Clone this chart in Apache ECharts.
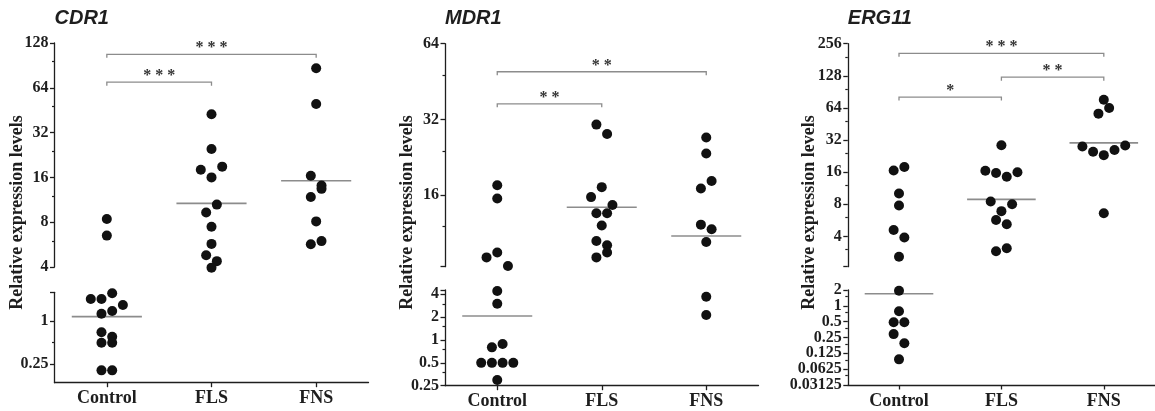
<!DOCTYPE html>
<html><head><meta charset="utf-8">
<script src="https://cdn.jsdelivr.net/npm/echarts@6/dist/echarts.min.js"></script>
<style>html,body{margin:0;padding:0;background:#fff}#c{width:1155px;height:411px}</style>
</head><body><div id="c"></div>
<script>
// ---------- data ----------
const categories = ['Control', 'FLS', 'FNS'];
const geneTitles = ['CDR1', 'MDR1', 'ERG11'];
const yAxisTitle = 'Relative expression levels';

// CDR1 (values listed top-to-bottom, left-to-right)
const cdr1Control = [8.4, 6.5, 2.03, 2.03, 2.44, 1.675, 1.265, 1.38, 0.694, 0.6, 0.497, 0.497, 0.204, 0.204];
const cdr1FLS = [42.5, 24.8, 18.0, 16.0, 18.9, 9.3, 10.5, 7.45, 5.72, 4.8, 4.38, 3.96];
const cdr1FNS = [86.5, 49.8, 16.4, 14.1, 11.8, 13.4, 8.1, 5.68, 5.97];
const cdr1Centre = [1.15, 10.7, 15.2];
const cdr1UpperRange = [4, 128];
const cdr1LowerRange = [0.137, 2.52];
const cdr1UpperLabels = [4, 8, 16, 32, 64, 128];
const cdr1UpperMinor = [6, 12, 24, 48, 96];
const cdr1LowerLabels = [0.25, 1];
const cdr1LowerMinor = [0.5];
const cdr1Brackets = [[0, 1, 69.8], [0, 2, 107.4]];
const cdr1Stars = ['* * *', '* * *'];

// MDR1
const mdr1Control = [17.5, 15.5, 9.04, 9.46, 8.35, 4.42, 3.0, 0.8, 0.886, 0.5, 0.5, 0.5, 0.5, 0.297];
const mdr1FLS = [30.5, 28.0, 15.7, 17.2, 14.6, 13.55, 13.55, 12.1, 10.5, 10.1, 9.04, 9.46];
const mdr1FNS = [27.1, 23.4, 17.0, 18.2, 12.2, 11.7, 10.4, 3.72, 2.13];
const mdr1Centre = [2.07, 14.3, 11.0];
const mdr1UpperRange = [8.3, 64];
const mdr1LowerRange = [0.25, 4.56];
const mdr1UpperLabels = [16, 32, 64];
const mdr1UpperMinor = [12, 24, 48];
const mdr1LowerLabels = [0.25, 0.5, 1, 2, 4];
const mdr1LowerMinor = [0.375, 0.75, 1.5, 3];
const mdr1Brackets = [[0, 1, 36.9], [0, 2, 49.5]];
const mdr1Stars = ['* *', '* *'];

// ERG11
const erg11Control = [16.6, 17.9, 10.1, 7.8, 4.6, 3.9, 2.58, 1.94, 0.79, 0.486, 0.486, 0.29, 0.194, 0.096];
const erg11FLS = [28.6, 16.5, 15.7, 14.5, 16.0, 8.5, 6.9, 8.0, 5.7, 5.2, 2.9, 3.1];
const erg11FNS = [56.6, 64, 76.4, 27.8, 24.9, 23.1, 25.8, 28.4, 6.6];
const erg11Centre = [1.7, 8.9, 30.1];
const erg11UpperRange = [2.08, 256];
const erg11LowerRange = [0.03125, 2];
const erg11UpperLabels = [4, 8, 16, 32, 64, 128, 256];
const erg11UpperMinor = [3, 6, 12, 24, 48, 96, 192];
const erg11LowerLabels = [0.03125, 0.0625, 0.125, 0.25, 0.5, 1, 2];
const erg11LowerMinor = [0.046875, 0.09375, 0.1875, 0.375, 0.75, 1.5];
const erg11Brackets = [[0, 1, 80.9], [1, 2, 124.4], [0, 2, 208]];
const erg11Stars = ['*', '* *', '* * *'];

// ---------- assembly ----------
const panels = [
  {title: geneTitles[0], groups: [cdr1Control, cdr1FLS, cdr1FNS], centre: cdr1Centre, upper: cdr1UpperRange, lower: cdr1LowerRange,
   upperLabels: cdr1UpperLabels, upperMinor: cdr1UpperMinor, lowerLabels: cdr1LowerLabels, lowerMinor: cdr1LowerMinor, brackets: cdr1Brackets, stars: cdr1Stars},
  {title: geneTitles[1], groups: [mdr1Control, mdr1FLS, mdr1FNS], centre: mdr1Centre, upper: mdr1UpperRange, lower: mdr1LowerRange,
   upperLabels: mdr1UpperLabels, upperMinor: mdr1UpperMinor, lowerLabels: mdr1LowerLabels, lowerMinor: mdr1LowerMinor, brackets: mdr1Brackets, stars: mdr1Stars},
  {title: geneTitles[2], groups: [erg11Control, erg11FLS, erg11FNS], centre: erg11Centre, upper: erg11UpperRange, lower: erg11LowerRange,
   upperLabels: erg11UpperLabels, upperMinor: erg11UpperMinor, lowerLabels: erg11LowerLabels, lowerMinor: erg11LowerMinor, brackets: erg11Brackets, stars: erg11Stars}
];

const layout = [
  {left: 54.5, width: 314, upperTop: 43, upperBottom: 267, lowerTop: 292.3, lowerBottom: 382.7, nameX: 17.5},
  {left: 445, width: 313.5, upperTop: 43.7, upperBottom: 266.7, lowerTop: 290, lowerBottom: 385.7, nameX: 407.5},
  {left: 847.8, width: 313, upperTop: 43.7, upperBottom: 266.7, lowerTop: 290, lowerBottom: 385, nameX: 809}
];

const SERIF = '"Liberation Serif", "Times New Roman", serif';
const SANS = '"Liberation Sans", Arial, sans-serif';
const INK = '#1e1e1e';
const GREY = '#8c8c8c';
const DOT_R = 5;
const ROW_GAP = 10;
const COL_GAP = 10.7;
const log2 = Math.log2;

function fmt(v) { return String(+Math.pow(2, v).toPrecision(6)); }

const grids = [], xAxes = [], yAxes = [], minorAxes = [], series = [], titles = [], graphics = [];

panels.forEach((p, pi) => {
  const L = layout[pi];
  titles.push({text: p.title, left: L.left, top: 8, padding: 0,
    textStyle: {fontFamily: SANS, fontWeight: 'bold', fontStyle: 'italic', fontSize: 20, color: INK}});
  graphics.push({type: 'text', x: L.nameX, y: 212.5, rotation: Math.PI / 2,
    style: {text: yAxisTitle, font: 'bold 18px ' + SERIF, fill: INK, align: 'center', verticalAlign: 'middle',
      textAlign: 'center', textVerticalAlign: 'middle'}});

  [0, 1].forEach(seg => {
    const g = pi * 2 + seg;
    const top = seg === 0 ? L.upperTop : L.lowerTop;
    const bottom = seg === 0 ? L.upperBottom : L.lowerBottom;
    grids.push({left: L.left, top: top, width: L.width, height: bottom - top, containLabel: false});
    xAxes.push({type: 'category', data: categories, gridIndex: g, boundaryGap: true, show: seg === 1, position: 'bottom',
      axisLine: {show: true, onZero: false, lineStyle: {color: INK, width: 1.3}},
      axisTick: {show: true, alignWithLabel: true, length: 4.5, lineStyle: {color: INK, width: 1.3}},
      axisLabel: {fontFamily: SERIF, fontWeight: 'bold', fontSize: 18, color: INK, margin: 7},
      splitLine: {show: false}});
    const range = seg === 0 ? p.upper : p.lower;
    const labels = seg === 0 ? p.upperLabels : p.lowerLabels;
    const minor = seg === 0 ? p.upperMinor : p.lowerMinor;
    const end = seg === 0 ? range[0] : range[1];
    const major = labels.slice();
    if (major.indexOf(end) < 0) major.push(end);
    yAxes.push({type: 'value', gridIndex: g, min: log2(range[0]), max: log2(range[1]), position: 'left',
      axisLine: {show: true, onZero: false, lineStyle: {color: INK, width: 1.3}},
      axisTick: {show: true, length: 4.5, customValues: major.map(log2), lineStyle: {color: INK, width: 1.3}},
      axisLabel: {show: true, customValues: labels.map(log2), formatter: fmt, fontFamily: SERIF, fontWeight: 'bold',
        fontSize: 16, color: INK, margin: 6},
      splitLine: {show: false}});
    minorAxes.push({type: 'value', gridIndex: g, min: log2(range[0]), max: log2(range[1]), position: 'left', offset: 0,
      axisLine: {show: false, onZero: false},
      axisTick: {show: true, length: 2.5, customValues: minor.map(log2), lineStyle: {color: INK, width: 1.2}},
      axisLabel: {show: false}, splitLine: {show: false}});

    // centre lines in this segment
    const centreData = [];
    p.centre.forEach((v, ci) => {
      const inUpper = v > p.lower[1];
      if ((seg === 0) === inUpper) centreData.push([ci, log2(v)]);
    });
    series.push({type: 'custom', id: 'centre' + g, coordinateSystem: 'cartesian2d', xAxisIndex: g, yAxisIndex: g,
      encode: {x: 0, y: 1}, data: centreData, silent: true, z: 3,
      renderItem: (params, api) => {
        const pt = api.coord([api.value(0), api.value(1)]);
        const w = api.size([1, 0])[0] * 0.67;
        return {type: 'line', shape: {x1: pt[0] - w / 2, y1: pt[1], x2: pt[0] + w / 2, y2: pt[1]},
          style: {stroke: GREY, lineWidth: 1.6}};
      }});

    // dots (offsets computed after layout)
    const dotData = [];
    p.groups.forEach((arr, ci) => {
      arr.forEach(v => {
        const inUpper = v > p.lower[1];
        if ((seg === 0) === inUpper) dotData.push([ci, log2(v), 0]);
      });
    });
    series.push({type: 'custom', id: 'dots' + g, coordinateSystem: 'cartesian2d', xAxisIndex: g, yAxisIndex: g,
      encode: {x: 0, y: 1}, data: dotData, silent: true, z: 5,
      renderItem: (params, api) => {
        const pt = api.coord([api.value(0), api.value(1)]);
        return {type: 'circle', shape: {cx: pt[0] + api.value(2), cy: pt[1], r: DOT_R}, style: {fill: '#111'}};
      }});
  });

  // significance brackets on the upper grid
  const gU = pi * 2;
  const stars = p.stars;
  series.push({type: 'custom', id: 'br' + pi, coordinateSystem: 'cartesian2d', xAxisIndex: gU, yAxisIndex: gU,
    encode: {x: [0, 1], y: 2}, data: p.brackets.map(b => [b[0], b[1], log2(b[2])]), silent: true, z: 4,
    renderItem: (params, api) => {
      const a = api.coord([api.value(0), api.value(2)]);
      const b = api.coord([api.value(1), api.value(2)]);
      const y = a[1];
      return {type: 'group', children: [
        {type: 'polyline', shape: {points: [[a[0], y + 3.5], [a[0], y], [b[0], y], [b[0], y + 3.5]]},
          style: {stroke: GREY, lineWidth: 1.3, fill: null}},
        {type: 'text', style: {text: stars[params.dataIndex], x: (a[0] + b[0]) / 2, y: y - 6,
          align: 'center', verticalAlign: 'middle', textAlign: 'center', textVerticalAlign: 'middle',
          font: 'bold 16px ' + SERIF, fill: '#333'}}
      ]};
    }});
});

const chart = echarts.init(document.getElementById('c'), null, {renderer: 'canvas'});
chart.setOption({
  animation: false,
  backgroundColor: '#fff',
  title: titles,
  grid: grids,
  xAxis: xAxes,
  yAxis: yAxes.concat(minorAxes),
  series: series,
  graphic: graphics
});

// beeswarm-like horizontal spread, rows of overlapping dots centred on the category
const updates = [];
panels.forEach((p, pi) => {
  const perSeg = [[], []];
  p.groups.forEach((arr, ci) => {
    const ys = arr.map(v => {
      const seg = v > p.lower[1] ? 0 : 1;
      return chart.convertToPixel({gridIndex: pi * 2 + seg}, [ci, log2(v)])[1];
    });
    const dx = new Array(arr.length).fill(0);
    let i = 0;
    while (i < arr.length) {
      let j = i + 1;
      while (j < arr.length && Math.abs(ys[j] - ys[i]) < ROW_GAP) j++;
      const n = j - i;
      for (let k = 0; k < n; k++) dx[i + k] = (k - (n - 1) / 2) * COL_GAP;
      i = j;
    }
    arr.forEach((v, k) => {
      const seg = v > p.lower[1] ? 0 : 1;
      perSeg[seg].push([ci, log2(v), dx[k]]);
    });
  });
  updates.push({id: 'dots' + (pi * 2), data: perSeg[0]});
  updates.push({id: 'dots' + (pi * 2 + 1), data: perSeg[1]});
});
chart.setOption({series: updates});
</script>
</body></html>
